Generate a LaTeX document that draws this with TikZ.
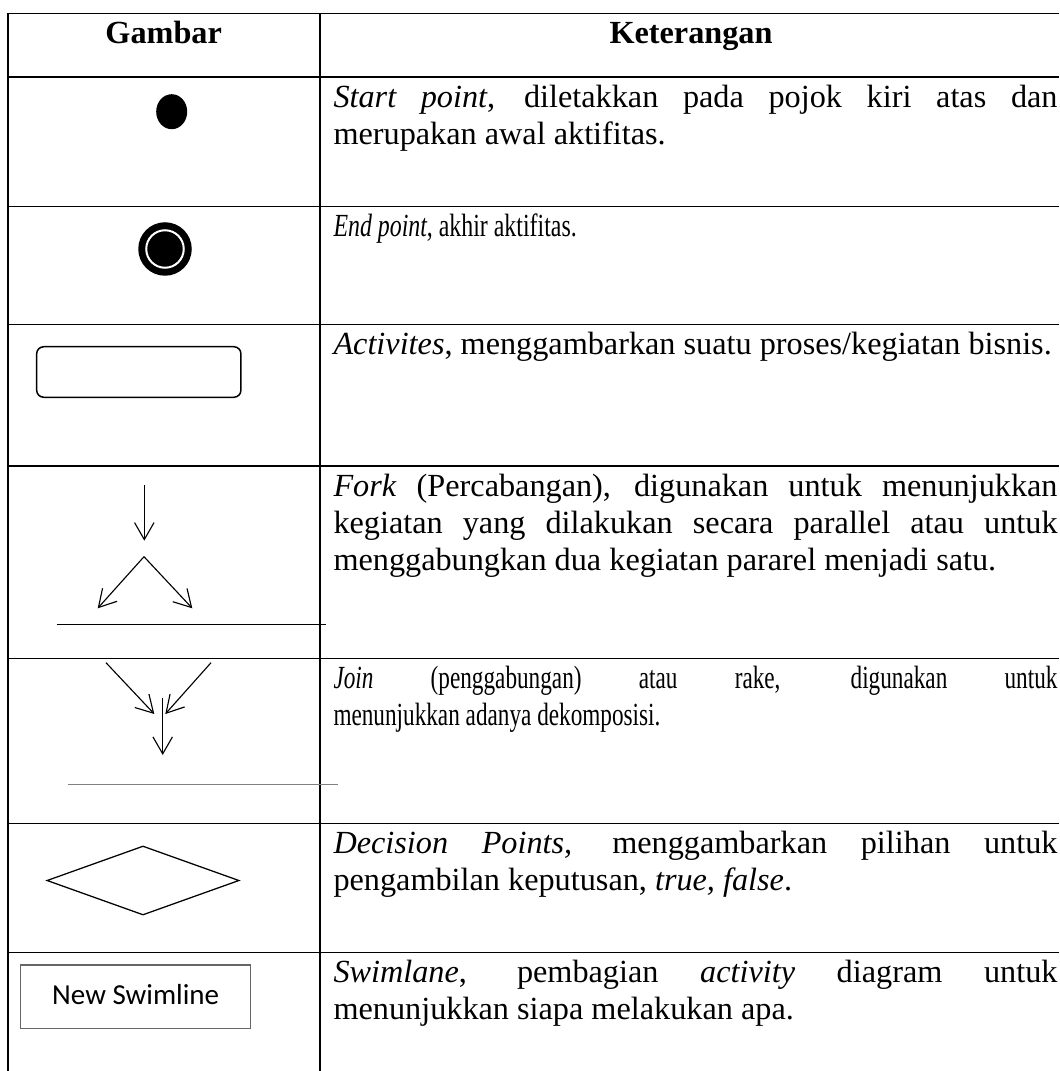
\documentclass[tikz,border=0pt]{standalone}
\usepackage{fontspec}
\setmainfont{Liberation Serif}
\newfontfamily\swimfont{Carlito}
\newfontfamily\endfont[FakeStretch=0.74]{Liberation Serif}
\newfontfamily\joinfont[FakeStretch=0.72]{Liberation Serif}
\usetikzlibrary{positioning,shapes.geometric,arrows.meta}

\begin{document}
\begin{tikzpicture}[x=0.4pt, y=-0.4pt,
    grid/.style={line width=0.45pt},
    head/.style={font=\fontsize{12.9}{14.8}\selectfont\bfseries, inner sep=0, anchor=base},
    desc/.style={font=\fontsize{12.9}{14.8}\selectfont, text width=289.6pt, align=justify, inner sep=0, anchor=north west,
        execute at begin node={\hyphenpenalty=10000\tolerance=10000\strut}},
    arrow/.style={-{Straight Barb[length=6.8pt,width=7.8pt]}, line width=0.45pt},
    startdot/.style={ellipse, fill=black, minimum width=12.4pt, minimum height=14pt, inner sep=0},
    endring/.style={circle, fill=black, minimum size=21.4pt, inner sep=0},
    endcore/.style={circle, fill=black, draw=white, line width=0.8pt, minimum size=15pt, inner sep=0},
    activity/.style={rectangle, draw, rounded corners=2.8pt, line width=0.6pt, minimum width=81.7pt, minimum height=20.2pt, inner sep=0},
    decision/.style={diamond, draw, line width=0.5pt, minimum width=76.9pt, minimum height=27.6pt, inner sep=0},
    swimbox/.style={rectangle, draw=black!60, line width=0.5pt, minimum width=92pt, minimum height=25.3pt, text depth=0.2em,
        font=\swimfont\fontsize{11.6}{14}\selectfont}]

    \useasboundingbox (0,0) rectangle (1059,1071);

    % Table
    \foreach \y in {13.3,77,206.3,324.3,466,658.3,823.3,952.3}
        \draw[grid] (8,\y) -- (1059,\y);
    \draw[grid] (8,13.3) -- (8,1071);
    \draw[grid] (320,13.3) -- (320,1071);

    % Header
    \node[head] (gambar) at (163.7,44) {Gambar};
    \node[head] (ket) at (691,44) {Keterangan};

    % Start point
    \node[startdot] (start) at (171.7,111.7) {};

    % End point
    \node[endring] (endpt) at (165,249) {};
    \node[endcore] (endin) at (endpt) {};

    % Activity
    \node[activity] (act) at (138.8,372) {};

    % Fork
    \coordinate (forkin) at (144.3,485);
    \coordinate (forkmid) at (144.3,540.7);
    \coordinate (forktop) at (144,556.7);
    \coordinate (forkl) at (97.7,608.3);
    \coordinate (forkr) at (192.3,608.3);
    \draw[arrow] (forkin) -- (forkmid);
    \draw[arrow] (forktop) -- (forkl);
    \draw[arrow] (forktop) -- (forkr);
    \draw[line width=0.4pt] (56.7,624) -- (326,624);

    % Join
    \coordinate (joinl) at (106,662.7);
    \coordinate (joinr) at (211,662.7);
    \coordinate (joinml) at (154.3,714);
    \coordinate (joinmr) at (165.3,714);
    \coordinate (joinin) at (162.7,698.3);
    \coordinate (joinout) at (162.7,755);
    \draw[arrow] (joinl) -- (joinml);
    \draw[arrow] (joinr) -- (joinmr);
    \draw[arrow] (joinin) -- (joinout);
    \draw[black!50, line width=0.6pt] (68.3,784.3) -- (338.3,784.3);

    % Decision
    \node[decision] (dec) at (143,880.5) {};

    % Swimlane
    \node[swimbox] (swim) at (135.7,996.7) {New Swimline};

    % Descriptions
    \node[desc] (dstart) at (333,81.1) {\textit{Start point}, diletakkan pada pojok kiri atas dan\linebreak merupakan awal aktifitas.};
    \node[desc] (dend) at (333,210.4) {\endfont\textit{End point}, akhir aktifitas.};
    \node[desc] (dact) at (333,328.4) {\textit{Activites}, menggambarkan suatu proses/kegiatan bisnis.};
    \node[desc] (dfork) at (333,470.1) {\textit{Fork} (Percabangan), digunakan untuk menunjukkan\linebreak kegiatan yang dilakukan secara parallel atau untuk\linebreak menggabungkan dua kegiatan pararel menjadi satu.};
    \node[desc] (djoin) at (333,662.4) {\joinfont\textit{Join} (penggabungan) atau rake, digunakan untuk\linebreak menunjukkan adanya dekomposisi.};
    \node[desc] (ddec) at (333,827.4) {\textit{Decision Points,} menggambarkan pilihan untuk\linebreak pengambilan keputusan, \textit{true, false}.};
    \node[desc] (dswim) at (333,956.4) {\textit{Swimlane}, pembagian \textit{activity} diagram untuk\linebreak menunjukkan siapa melakukan apa.};
\end{tikzpicture}
\end{document}
